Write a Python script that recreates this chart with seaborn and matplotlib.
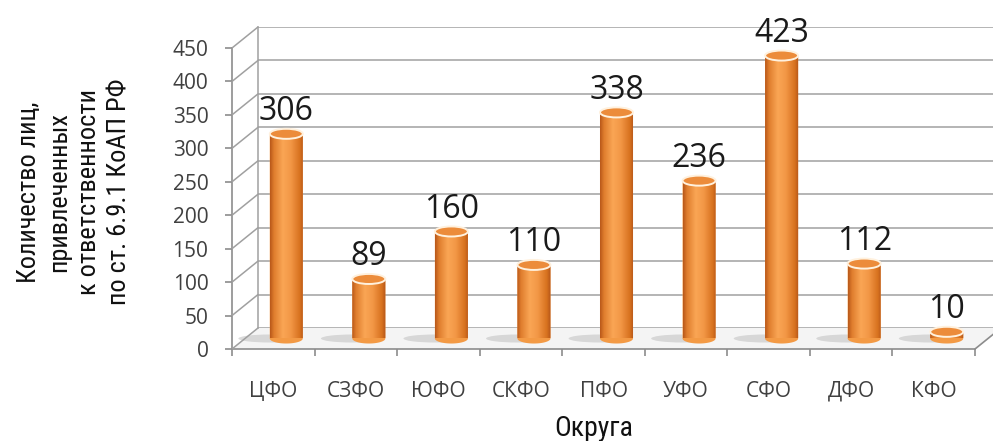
import numpy as np
import matplotlib
matplotlib.use('Agg')
import matplotlib.pyplot as plt
import seaborn as sns
from matplotlib.colors import LinearSegmentedColormap
from matplotlib.patches import Ellipse, PathPatch, Polygon, ConnectionPatch
from matplotlib.path import Path
from matplotlib.ticker import FixedLocator

# Data
districts = ['ЦФО', 'СЗФО', 'ЮФО', 'СКФО', 'ПФО', 'УФО', 'СФО', 'ДФО', 'КФО']
counts = [306, 89, 160, 110, 338, 236, 423, 112, 10]
y_ticks = list(range(0, 451, 50))

sns.set_theme(style='white')
plt.rcParams['font.family'] = ['Open Sans', 'DejaVu Sans']
narrow = ['Roboto Condensed', 'DejaVu Sans']

W, H = 993, 441
fig = plt.figure(figsize=(W / 100, H / 100), dpi=100)


def box(left, zero, right, top):
    return [left / W, 1 - zero / H, (right - left) / W, (zero - top) / H]


# three planes of the fake 3D chart: back wall, bars, front axis
back = fig.add_axes(box(258, 328, 1001, 27))
mid = fig.add_axes(box(245, 338.5, 988, 37.5))
front = fig.add_axes(box(232, 349, 975, 48))
for a in (back, mid, front):
    a.set_facecolor('none')

grid_col = '#a0a0a0'

# floor
floor_px = [(232, 349), (975, 349), (1001, 328), (258, 328)]
fig.add_artist(Polygon([(x / W, 1 - y / H) for x, y in floor_px],
                       transform=fig.transFigure, facecolor='#f4f4f4',
                       edgecolor='none', zorder=-1))

# back wall grid
back.hlines(y_ticks, -0.5, 8.5, color=grid_col, lw=1.1)
back.set_xlim(-0.5, 8.5)
back.set_ylim(0, 450)
for s in ('top', 'right', 'bottom'):
    back.spines[s].set_visible(False)
back.spines['left'].set_color(grid_col)
back.spines['left'].set_linewidth(1.1)
back.set_xticks([])
back.set_yticks([])

# bars
sns.barplot(x=districts, y=counts, color='#F39A45', width=0.4, saturation=1,
            ax=mid, order=districts)
cmap = LinearSegmentedColormap.from_list('cyl', [
    (0.0, '#B9581A'), (0.12, '#E07E2E'), (0.38, '#FAA655'),
    (0.62, '#F29645'), (0.88, '#D8721F'), (1.0, '#B3551A')])
grad = np.linspace(0, 1, 200).reshape(1, -1)
eh = 15  # ellipse height in data units

for p, v in zip(mid.patches, counts):
    x0, w, h = p.get_x(), p.get_width(), p.get_height()
    cx = x0 + w / 2
    p.set_visible(False)
    t = np.linspace(np.pi, 2 * np.pi, 40)
    verts = [(x0, h), (x0, 0)] + list(zip(cx + w / 2 * np.cos(t), eh / 2 * np.sin(t))) + [(x0 + w, h), (x0, h)]
    body = PathPatch(Path(verts), facecolor='#F39A45', edgecolor='none', zorder=2, clip_on=False)
    mid.add_patch(body)
    # shadow on the floor
    mid.add_patch(Ellipse((cx - 0.2, 0), w * 1.9, eh * 0.8, facecolor='#c4c4c4',
                          edgecolor='none', alpha=0.6, zorder=1, clip_on=False))
    img = mid.imshow(grad, extent=(x0, x0 + w, -eh / 2, h), aspect='auto',
                     cmap=cmap, zorder=3, interpolation='bilinear')
    img.set_clip_path(body)
    mid.add_patch(Ellipse((cx, h), w, eh, facecolor='#EC8C3B', edgecolor='#FFF1DE',
                          lw=1.4, zorder=4, clip_on=False))
    mid.annotate(str(v), (cx, h), xytext=(0, 10), textcoords='offset points',
                 ha='center', va='baseline', fontsize=23, color='#1a1a1a', zorder=5)

mid.set_xlim(-0.5, 8.5)
mid.set_ylim(0, 450)
mid.axis('off')

# front axis
front.set_xlim(-0.5, 8.5)
front.set_ylim(0, 450)
for s in ('top', 'right'):
    front.spines[s].set_visible(False)
for s in ('left', 'bottom'):
    front.spines[s].set_color('#8c8c8c')
    front.spines[s].set_linewidth(1.2)
front.set_yticks(y_ticks)
front.set_yticklabels([str(t) for t in y_ticks])
front.tick_params(axis='y', length=5, width=1.2, color='#8c8c8c', pad=12,
                  labelsize=15, labelcolor='#404040', left=True)
front.set_xticks(range(len(districts)))
front.set_xticklabels(districts)
front.xaxis.set_minor_locator(FixedLocator(np.arange(-0.5, 9, 1)))
front.tick_params(axis='x', which='major', length=0, pad=23, labelsize=15,
                  labelcolor='#404040')
front.tick_params(axis='x', which='minor', length=5, width=1.2, color='#8c8c8c',
                  bottom=True)

# depth lines joining front and back
for v in y_ticks:
    fig.add_artist(ConnectionPatch(xyA=(-0.5, v), coordsA=front.transData,
                                   xyB=(-0.5, v), coordsB=back.transData,
                                   color=grid_col, lw=1.1))
fig.add_artist(ConnectionPatch(xyA=(8.5, 0), coordsA=front.transData,
                               xyB=(8.5, 0), coordsB=back.transData,
                               color='#8c8c8c', lw=1.2))

# titles
fig.text(74 / W, 1 - 192 / H,
         'Количество лиц,\nпривлеченных\nк ответственности\nпо ст. 6.9.1 КоАП РФ',
         rotation=90, ha='center', va='center', multialignment='center',
         fontsize=19, family=narrow, linespacing=1.32, color='#111111')
fig.text(594 / W, 1 - 428 / H, 'Округа', ha='center', va='center',
         fontsize=20, family=narrow, color='#111111')

fig.savefig('out.png', dpi=100)
